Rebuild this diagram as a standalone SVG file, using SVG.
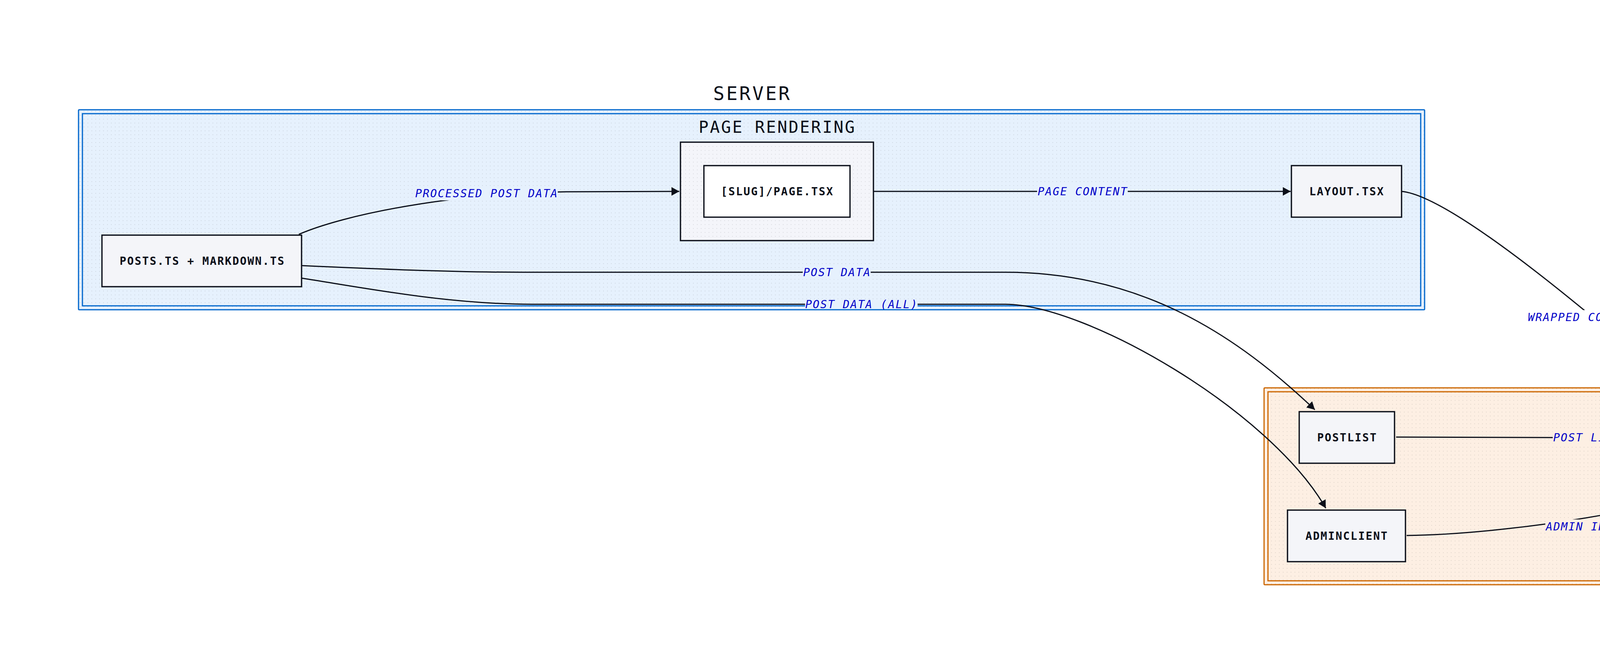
<svg xmlns="http://www.w3.org/2000/svg" width="6272" height="1700" viewBox="0 0 6272 1700">
<style>
.node rect{fill:#f4f5f9;stroke:#0b0f19;stroke-width:3.3}
.ntext{font-family:"DejaVu Sans Mono",monospace;font-size:28px;font-weight:bold;fill:#0b0f19;letter-spacing:2.4px;text-anchor:middle}
.elabel{font-family:"DejaVu Sans Mono",monospace;font-size:28px;font-style:italic;fill:#0000c8;letter-spacing:2.4px;text-anchor:middle}
.edge{fill:none;stroke:#0b0f19;stroke-width:3;marker-end:url(#arrow)}
.title{font-family:"DejaVu Sans Mono",monospace;font-size:48px;fill:#0b0f19;letter-spacing:4.5px;text-anchor:middle}
.subtitle{font-family:"DejaVu Sans Mono",monospace;font-size:42px;fill:#0b0f19;letter-spacing:3.5px;text-anchor:middle}
.dots{fill:url(#dots);stroke:none}
.lbs{fill:#e6f1fd}
.lbc{fill:#fdefe3}
.lbw{fill:#ffffff}
</style>
<defs>
<pattern id="dots" patternUnits="userSpaceOnUse" width="10" height="10">
<rect x="4" y="4" width="2" height="2" fill="#000000" fill-opacity="0.1"/>
</pattern>
<marker id="arrow" markerUnits="userSpaceOnUse" markerWidth="20" markerHeight="22" viewBox="0 0 20 22" refX="20" refY="11" orient="auto">
<path d="M0,0 L20,11 L0,22 z" fill="#0b0f19"/>
</marker>
</defs>
<rect x="0" y="0" width="6272" height="1700" fill="#ffffff"/>

<g id="cluster-server">
<text class="title" x="1926" y="256">SERVER</text>
<rect x="201" y="281" width="3446" height="512" rx="2" fill="#e6f1fd" stroke="#0066cc" stroke-width="3"/>
<rect class="dots" x="201" y="281" width="3446" height="512"/>
<rect x="211" y="291" width="3426" height="492" fill="none" stroke="#0066cc" stroke-width="3"/>
</g>
<g id="cluster-page-rendering">
<text class="subtitle" x="1990" y="340">PAGE RENDERING</text>
<rect x="1742" y="364" width="494" height="252" fill="#f4f5fa" stroke="#0b0f19" stroke-width="3.3"/>
<rect class="dots" x="1744" y="366" width="490" height="248"/>
</g>
<g id="cluster-client">
<text class="title" x="4653" y="967">CLIENT</text>
<rect x="3236" y="993" width="2831" height="504" rx="2" fill="#fdefe3" stroke="#cc6600" stroke-width="3"/>
<rect class="dots" x="3236" y="993" width="2831" height="504"/>
<rect x="3246" y="1003" width="2811" height="484" fill="none" stroke="#cc6600" stroke-width="3"/>
</g>

<g id="connectors">
<path class="edge" d="M765,600 C880,550 1150,495 1450,491 L1739,490"/>
<path class="edge" d="M2236,490 L3304,490"/>
<path class="edge" d="M3588,490 C3700,500 3990,740 4076,811 C4170,890 4420,1070 4552,1094"/>
<path class="edge" d="M772,680 C950,688 1150,697 1340,697 L2573,697 C2923,697 3166,859 3366,1049"/>
<path class="edge" d="M772,712 C950,740 1150,779 1362,779 L2573,779 C2780,779 3250,1050 3394,1301"/>
<path class="edge" d="M3574,1119 L4554,1122"/>
<path class="edge" d="M3601,1371 C3900,1368 4400,1280 4567,1190"/>
<path class="edge" d="M4879,1111 Q5254,1080 5628,1109"/>
<path class="edge" d="M5682,1190 C5350,1365 5150,1365 4858,1188"/>
</g>

<g id="edge-labels">
<rect class="lbs" x="1062" y="477" width="366" height="36"/>
<text class="elabel" x="1246" y="505">PROCESSED POST DATA</text>
<rect class="lbs" x="2655" y="472" width="232" height="36"/>
<text class="elabel" x="2772" y="500">PAGE CONTENT</text>
<rect class="lbs" x="2055" y="679" width="174" height="36"/>
<text class="elabel" x="2143" y="707">POST DATA</text>
<rect class="lbs" x="2061" y="767" width="288" height="24"/>
<text class="elabel" x="2206" y="789">POST DATA (ALL)</text>
<rect class="lbw" x="3910" y="794" width="290" height="36"/>
<text class="elabel" x="4056" y="822">WRAPPED CONTENT</text>
<rect class="lbc" x="3975" y="1102" width="174" height="36"/>
<text class="elabel" x="4063" y="1130">POST LIST</text>
<rect class="lbc" x="3956" y="1330" width="290" height="36"/>
<text class="elabel" x="4102" y="1358">ADMIN INTERFACE</text>
<rect class="lbc" x="5138" y="1074" width="232" height="36"/>
<text class="elabel" x="5255" y="1102">HTML CONTENT</text>
<text class="elabel" x="5266" y="1371">RENDERED CONTENT</text>
</g>

<g id="node-posts" class="node">
<rect x="261" y="602" width="511" height="132"/>
<text class="ntext" x="518" y="678">POSTS.TS + MARKDOWN.TS</text>
</g>
<g id="node-slug-page" class="node">
<rect x="1802" y="424" width="374" height="132" style="fill:#ffffff"/>
<text class="ntext" x="1990" y="500">[SLUG]/PAGE.TSX</text>
</g>
<g id="node-layout" class="node">
<rect x="3306" y="424" width="282" height="132"/>
<text class="ntext" x="3448" y="500">LAYOUT.TSX</text>
</g>
<g id="node-postlist" class="node">
<rect x="3326" y="1054" width="244" height="132"/>
<text class="ntext" x="3449" y="1130">POSTLIST</text>
</g>
<g id="node-adminclient" class="node">
<rect x="3296" y="1306" width="302" height="132"/>
<text class="ntext" x="3448" y="1382">ADMINCLIENT</text>
</g>
<g id="node-clientlayout" class="node">
<rect x="4556" y="1056" width="322" height="132"/>
<text class="ntext" x="4718" y="1132">CLIENTLAYOUT</text>
</g>
<g id="node-contentrenderer" class="node">
<rect x="5630" y="1056" width="380" height="132"/>
<text class="ntext" x="5821" y="1132">CONTENTRENDERER</text>
</g>
</svg>
